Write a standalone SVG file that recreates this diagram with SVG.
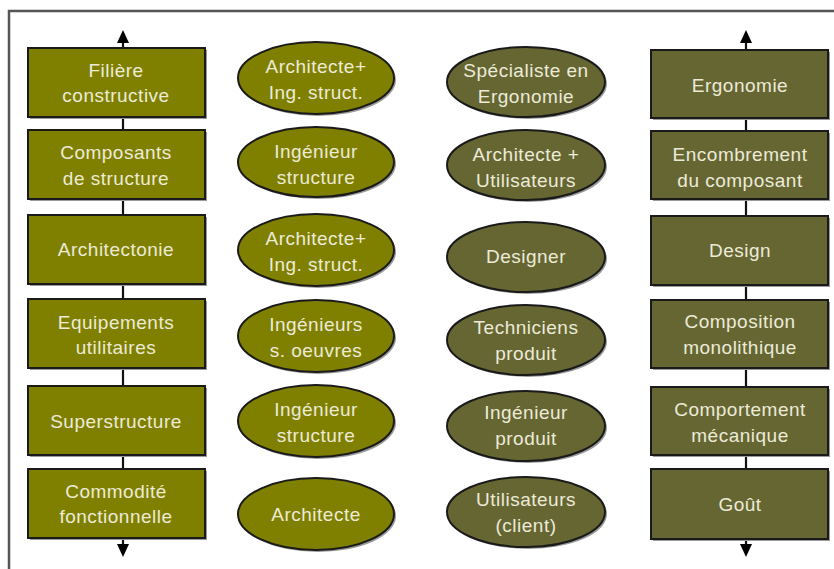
<svg xmlns="http://www.w3.org/2000/svg" width="834" height="569" viewBox="0 0 834 569">
<defs>
<marker id="ah" markerWidth="12" markerHeight="12" refX="6" refY="6" orient="auto" markerUnits="userSpaceOnUse" viewBox="0 0 12 12">
<path d="M0,12 L6,0 L12,12 Z" fill="#000"/>
</marker>
</defs>
<style>
.frame{fill:none;stroke:#555;stroke-width:2.5}
.line{stroke:#111;stroke-width:2.2;fill:none}
.sh{fill:#9a9a9a}
.b1{fill:#808000;stroke:#1a1a1a;stroke-width:2}
.b2{fill:#666633;stroke:#1a1a1a;stroke-width:2}
text{font-family:"Liberation Sans",Arial,sans-serif;font-size:19px;fill:#ecebd8;text-anchor:middle;letter-spacing:0.5px}
</style>
<rect width="834" height="569" fill="#fff"/>
<path class="frame" d="M9,569 L9,11 L834,11"/>
<g id="connectors">
<line class="line" x1="123" y1="42" x2="123" y2="545"/>
<path d="M117,43 L123,30 L129,43 Z" fill="#000"/>
<path d="M117,544 L123,557 L129,544 Z" fill="#000"/>
<line class="line" x1="746" y1="42" x2="746" y2="545"/>
<path d="M740,43 L746,30 L752,43 Z" fill="#000"/>
<path d="M740,544 L746,557 L752,544 Z" fill="#000"/>
</g>
<g id="left-column">
<g id="n-filiere"><rect class="sh" x="30" y="50" width="177" height="69"/><rect class="b1" x="28" y="48" width="177" height="69"/><text x="116" y="77">Filière</text><text x="116" y="102">constructive</text></g>
<g id="n-composants"><rect class="sh" x="30" y="132" width="177" height="69"/><rect class="b1" x="28" y="130" width="177" height="69"/><text x="116" y="159">Composants</text><text x="116" y="185">de structure</text></g>
<g id="n-architectonie"><rect class="sh" x="30" y="217" width="177" height="69"/><rect class="b1" x="28" y="215" width="177" height="69"/><text x="116" y="256">Architectonie</text></g>
<g id="n-equipements"><rect class="sh" x="30" y="301" width="177" height="69"/><rect class="b1" x="28" y="299" width="177" height="69"/><text x="116" y="329">Equipements</text><text x="116" y="354">utilitaires</text></g>
<g id="n-superstructure"><rect class="sh" x="30" y="388" width="177" height="69"/><rect class="b1" x="28" y="386" width="177" height="69"/><text x="116" y="428">Superstructure</text></g>
<g id="n-commodite"><rect class="sh" x="30" y="471" width="177" height="69"/><rect class="b1" x="28" y="469" width="177" height="69"/><text x="116" y="498">Commodité</text><text x="116" y="523">fonctionnelle</text></g>
</g>
<g id="col2">
<g id="e2-1"><ellipse class="sh" cx="318" cy="80" rx="78" ry="36"/><ellipse class="b1" cx="316" cy="78" rx="78" ry="36"/><text x="316" y="73">Architecte+</text><text x="316" y="99">Ing. struct.</text></g>
<g id="e2-2"><ellipse class="sh" cx="318" cy="164" rx="78" ry="35"/><ellipse class="b1" cx="316" cy="162" rx="78" ry="35"/><text x="316" y="158">Ingénieur</text><text x="316" y="184">structure</text></g>
<g id="e2-3"><ellipse class="sh" cx="318" cy="252" rx="78" ry="36"/><ellipse class="b1" cx="316" cy="250" rx="78" ry="36"/><text x="316" y="245">Architecte+</text><text x="316" y="271">Ing. struct.</text></g>
<g id="e2-4"><ellipse class="sh" cx="318" cy="338" rx="78" ry="36"/><ellipse class="b1" cx="316" cy="336" rx="78" ry="36"/><text x="316" y="331">Ingénieurs</text><text x="316" y="357">s. oeuvres</text></g>
<g id="e2-5"><ellipse class="sh" cx="318" cy="423" rx="78" ry="36"/><ellipse class="b1" cx="316" cy="421" rx="78" ry="36"/><text x="316" y="416">Ingénieur</text><text x="316" y="442">structure</text></g>
<g id="e2-6"><ellipse class="sh" cx="318" cy="516" rx="78" ry="36"/><ellipse class="b1" cx="316" cy="514" rx="78" ry="36"/><text x="316" y="521">Architecte</text></g>
</g>
<g id="col3">
<g id="e3-1"><ellipse class="sh" cx="528" cy="84" rx="79" ry="35"/><ellipse class="b2" cx="526" cy="82" rx="79" ry="35"/><text x="526" y="77">Spécialiste en</text><text x="526" y="103">Ergonomie</text></g>
<g id="e3-2"><ellipse class="sh" cx="528" cy="167" rx="79" ry="35"/><ellipse class="b2" cx="526" cy="165" rx="79" ry="35"/><text x="526" y="161">Architecte +</text><text x="526" y="187">Utilisateurs</text></g>
<g id="e3-3"><ellipse class="sh" cx="528" cy="259" rx="79" ry="35"/><ellipse class="b2" cx="526" cy="257" rx="79" ry="35"/><text x="526" y="263">Designer</text></g>
<g id="e3-4"><ellipse class="sh" cx="528" cy="342" rx="79" ry="35"/><ellipse class="b2" cx="526" cy="340" rx="79" ry="35"/><text x="526" y="334">Techniciens</text><text x="526" y="360">produit</text></g>
<g id="e3-5"><ellipse class="sh" cx="528" cy="428" rx="79" ry="35"/><ellipse class="b2" cx="526" cy="426" rx="79" ry="35"/><text x="526" y="419">Ingénieur</text><text x="526" y="445">produit</text></g>
<g id="e3-6"><ellipse class="sh" cx="528" cy="514" rx="79" ry="35"/><ellipse class="b2" cx="526" cy="512" rx="79" ry="35"/><text x="526" y="506">Utilisateurs</text><text x="526" y="532">(client)</text></g>
</g>
<g id="right-column">
<g id="n-ergonomie"><rect class="sh" x="653" y="52" width="177" height="68"/><rect class="b2" x="651" y="50" width="177" height="68"/><text x="740" y="92">Ergonomie</text></g>
<g id="n-encombrement"><rect class="sh" x="653" y="133" width="177" height="68"/><rect class="b2" x="651" y="131" width="177" height="68"/><text x="740" y="161">Encombrement</text><text x="740" y="187">du composant</text></g>
<g id="n-design"><rect class="sh" x="653" y="218" width="177" height="69"/><rect class="b2" x="651" y="216" width="177" height="69"/><text x="740" y="257">Design</text></g>
<g id="n-composition"><rect class="sh" x="653" y="302" width="177" height="68"/><rect class="b2" x="651" y="300" width="177" height="68"/><text x="740" y="328">Composition</text><text x="740" y="354">monolithique</text></g>
<g id="n-comportement"><rect class="sh" x="653" y="389" width="177" height="68"/><rect class="b2" x="651" y="387" width="177" height="68"/><text x="740" y="416">Comportement</text><text x="740" y="442">mécanique</text></g>
<g id="n-gout"><rect class="sh" x="653" y="471" width="177" height="70"/><rect class="b2" x="651" y="469" width="177" height="70"/><text x="740" y="511">Goût</text></g>
</g>
</svg>
